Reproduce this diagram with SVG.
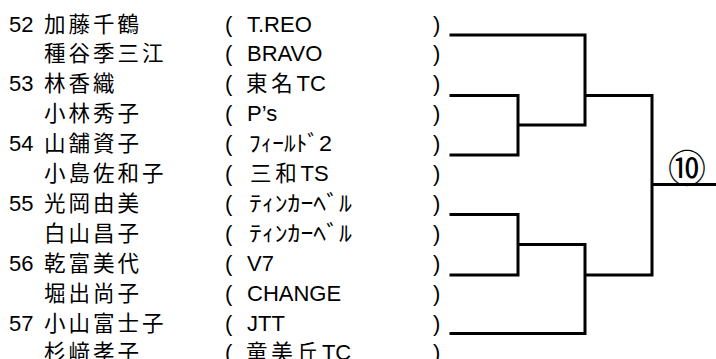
<svg xmlns="http://www.w3.org/2000/svg" width="716" height="359" viewBox="0 0 716 359">
<style>
.bg{fill:#ffffff}
.t{font-family:"Liberation Sans","Noto Sans CJK JP",sans-serif;font-size:22px;fill:#000}
.k{font-family:"Noto Sans CJK JP",sans-serif;font-size:21.5px;letter-spacing:3px;fill:#000}
.j{font-family:"Noto Sans CJK JP",sans-serif;font-size:21.5px;letter-spacing:3.8px}
.c{fill:none;stroke:#000;stroke-width:3;stroke-linecap:square}
.r{font-family:"Noto Sans CJK JP",sans-serif;font-size:38px;fill:#000;text-anchor:middle}
</style>
<rect class="bg" x="0" y="0" width="716" height="359"/>
<g id="p52a"><text class="t" x="9" y="31.5">52</text><text class="k" x="44" y="31.5">加藤千鶴</text><text class="t" x="225" y="31.5">(</text><text class="t" x="247" y="31.5">T.REO</text><text class="t" x="433" y="31.5">)</text></g>
<g id="p52b"><text class="k" x="44" y="61.4">種谷季三江</text><text class="t" x="225" y="61.4">(</text><text class="t" x="247" y="61.4">BRAVO</text><text class="t" x="433" y="61.4">)</text></g>
<g id="p53a"><text class="t" x="9" y="91.3">53</text><text class="k" x="44" y="91.3">林香織</text><text class="t" x="225" y="91.3">(</text><text class="t" x="246" y="91.3"><tspan class="j">東名</tspan>TC</text><text class="t" x="433" y="91.3">)</text></g>
<g id="p53b"><text class="k" x="44" y="121.2">小林秀子</text><text class="t" x="225" y="121.2">(</text><text class="t" x="247" y="121.2">P’s</text><text class="t" x="433" y="121.2">)</text></g>
<g id="p54a"><text class="t" x="9" y="151.1">54</text><text class="k" x="44" y="151.1">山舗資子</text><text class="t" x="225" y="151.1">(</text><text class="t" x="249" y="151.1" textLength="83" lengthAdjust="spacingAndGlyphs">ﾌｨｰﾙﾄﾞ2</text><text class="t" x="433" y="151.1">)</text></g>
<g id="p54b"><text class="k" x="44" y="181">小島佐和子</text><text class="t" x="225" y="181">(</text><text class="t" x="250" y="181"><tspan class="j">三和</tspan>TS</text><text class="t" x="433" y="181">)</text></g>
<g id="p55a"><text class="t" x="9" y="210.9">55</text><text class="k" x="44" y="210.9">光岡由美</text><text class="t" x="225" y="210.9">(</text><text class="t" x="249" y="210.9" textLength="103" lengthAdjust="spacingAndGlyphs">ﾃｨﾝｶｰﾍﾞﾙ</text><text class="t" x="433" y="210.9">)</text></g>
<g id="p55b"><text class="k" x="44" y="240.8">白山昌子</text><text class="t" x="225" y="240.8">(</text><text class="t" x="249" y="240.8" textLength="103" lengthAdjust="spacingAndGlyphs">ﾃｨﾝｶｰﾍﾞﾙ</text><text class="t" x="433" y="240.8">)</text></g>
<g id="p56a"><text class="t" x="9" y="270.7">56</text><text class="k" x="44" y="270.7">乾富美代</text><text class="t" x="225" y="270.7">(</text><text class="t" x="247" y="270.7">V7</text><text class="t" x="433" y="270.7">)</text></g>
<g id="p56b"><text class="k" x="44" y="300.6">堀出尚子</text><text class="t" x="225" y="300.6">(</text><text class="t" x="247" y="300.6">CHANGE</text><text class="t" x="433" y="300.6">)</text></g>
<g id="p57a"><text class="t" x="9" y="330.5">57</text><text class="k" x="44" y="330.5">小山富士子</text><text class="t" x="225" y="330.5">(</text><text class="t" x="247" y="330.5">JTT</text><text class="t" x="433" y="330.5">)</text></g>
<g id="p57b"><text class="k" x="44" y="360.4">杉﨑孝子</text><text class="t" x="225" y="360.4">(</text><text class="t" x="246" y="360.4"><tspan class="j">童美丘</tspan>TC</text><text class="t" x="433" y="360.4">)</text></g>
<g id="connectors">
<path class="c" d="M451 35 H585 V125 M451 95.5 H518 V155 H451 M518 125 H585 M585 95.5 H652 V275 M451 214.5 H518 V275 H451 M518 244.5 H585 M451 333.5 H585 V244.5 M585 275 H652 M652 184.5 H716"/>
</g>
<g id="match10"><text class="r" x="687" y="182">⑩</text></g>
</svg>
